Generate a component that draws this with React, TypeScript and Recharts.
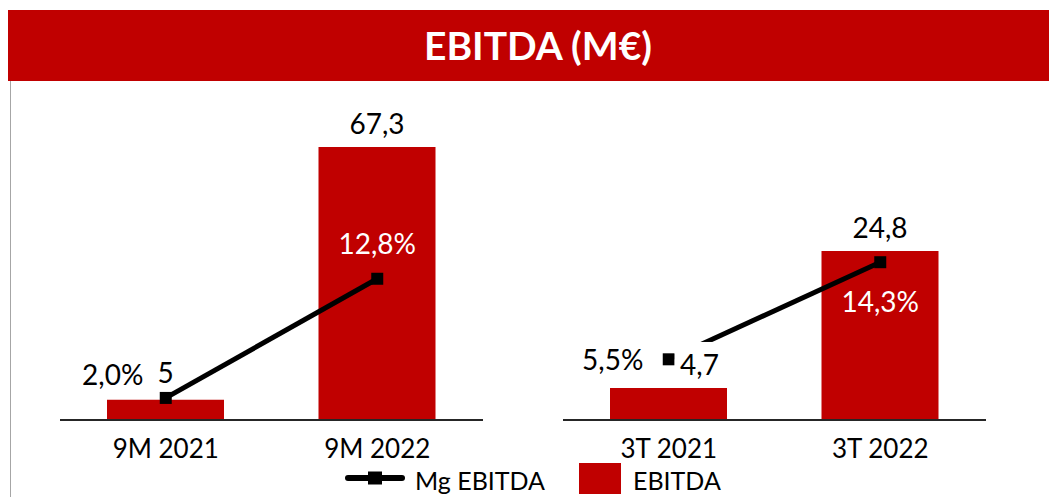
import React from 'react'
import { ComposedChart, Bar, Line, XAxis, YAxis, LabelList } from 'recharts'

// values
const periods9M = ['9M 2021', '9M 2022']
const ebitda9M = [5, 67.3]
const margin9M = [2.0, 12.8]

const periods3T = ['3T 2021', '3T 2022']
const ebitda3T = [4.7, 24.8]
const margin3T = [5.5, 14.3]

const RED = '#C00000'
const FONT = 'Lato, "Noto Sans", sans-serif'

// manual label placement like in the source (dx from centre, dy = baseline offset)
const barLabels9M = [{ dx: 0, dy: -17, mask: false }, { dx: 0, dy: -13, mask: false }]
const barLabels3T = [{ dx: 31, dy: -13, mask: true }, { dx: 0, dy: -13, mask: false }]
const lineLabels9M = [{ dx: -53, dy: -13, color: '#000' }, { dx: 0, dy: -25, color: '#fff' }]
const lineLabels3T = [{ dx: -56, dy: 11, color: '#000' }, { dx: 0, dy: 50, color: '#fff' }]

const fmtVal = (v: number) => String(v).replace('.', ',')
const fmtPct = (v: number) => v.toFixed(1).replace('.', ',') + '%'

const SquareDot = (props: any) => {
  const { cx, cy, index } = props
  if (cx == null || cy == null) return <g key={index} />
  return <rect key={index} x={cx - 6} y={cy - 6} width={12} height={12} fill="#000" />
}

const makeBarLabel = (pos: { dx: number; dy: number; mask: boolean }[]) => (props: any) => {
  const { x, y, width, value, index } = props
  const p = pos[index]
  const cx = Number(x) + Number(width) / 2 + p.dx
  const base = Number(y) + p.dy
  return (
    <g key={index}>
      {p.mask && <rect x={cx - 25} y={base - 33} width={50} height={40} fill="#fff" />}
      <text x={cx} y={base} textAnchor="middle" fontSize={28} fontFamily={FONT} fill="#000">
        {fmtVal(Number(value))}
      </text>
    </g>
  )
}

const makeLineLabel = (pos: { dx: number; dy: number; color: string }[]) => (props: any) => {
  const { x, y, value, index } = props
  const p = pos[index]
  return (
    <text key={index} x={Number(x) + p.dx} y={Number(y) + p.dy} textAnchor="middle" fontSize={28} fontFamily={FONT} fill={p.color}>
      {fmtPct(Number(value))}
    </text>
  )
}

interface PanelProps {
  periods: string[]
  ebitda: number[]
  margin: number[]
  barMax: number
  barLabels: { dx: number; dy: number; mask: boolean }[]
  lineLabels: { dx: number; dy: number; color: string }[]
  left: number
  marginLeft: number
}

const Panel: React.FC<PanelProps> = ({ periods, ebitda, margin, barMax, barLabels, lineLabels, left, marginLeft }) => {
  const data = periods.map((p, i) => ({ period: p, ebitda: ebitda[i], mg: margin[i] }))
  return (
    <div style={{ position: 'absolute', left, top: 80 }}>
      <ComposedChart
        width={500}
        height={400}
        data={data}
        margin={{ top: 12, right: 500 - marginLeft - 423, left: marginLeft, bottom: 28 }}
        style={{ fontFamily: FONT }}
      >
        <XAxis
          dataKey="period"
          height={40}
          tickLine={false}
          tickMargin={14}
          axisLine={{ stroke: '#262626', strokeWidth: 2 }}
          tick={{ fill: '#000', fontSize: 26, fontFamily: FONT }}
        />
        <YAxis yAxisId="val" hide domain={[0, barMax]} />
        <YAxis yAxisId="pct" hide domain={[0, 29]} orientation="right" />
        <Bar yAxisId="val" dataKey="ebitda" fill={RED} barSize={117} isAnimationActive={false}>
          <LabelList dataKey="ebitda" content={makeBarLabel(barLabels)} />
        </Bar>
        <Line
          yAxisId="pct"
          dataKey="mg"
          type="linear"
          stroke="#000"
          strokeWidth={5}
          dot={SquareDot}
          activeDot={false}
          isAnimationActive={false}
        >
          <LabelList dataKey="mg" content={makeLineLabel(lineLabels)} />
        </Line>
      </ComposedChart>
    </div>
  )
}

const App: React.FC = () => {
  return (
    <div style={{ position: 'relative', width: 1049, height: 489, fontFamily: FONT }}>
      <div
        style={{
          position: 'absolute', left: 0, top: 2, width: 1049, height: 71, background: RED,
          color: '#fff', fontWeight: 700, fontSize: 39, lineHeight: '71px', textAlign: 'center',
          paddingLeft: 11, boxSizing: 'border-box',
        }}
      >
        EBITDA (M€)
      </div>
      <div style={{ position: 'absolute', left: 2, top: 73, width: 1, height: 416, background: '#a6a6a6' }} />

      <Panel periods={periods9M} ebitda={ebitda9M} margin={margin9M} barMax={78.9}
        barLabels={barLabels9M} lineLabels={lineLabels9M} left={0} marginLeft={52} />
      <Panel periods={periods3T} ebitda={ebitda3T} margin={margin3T} barMax={46.96}
        barLabels={barLabels3T} lineLabels={lineLabels3T} left={515} marginLeft={40} />

      <svg style={{ position: 'absolute', left: 0, top: 450 }} width={1049} height={39}>
        <line x1={340} y1={20} x2={394} y2={20} stroke="#000" strokeWidth={6} strokeLinecap="round" />
        <rect x={360} y={13.5} width={14} height={13} fill="#000" />
        <text x={407} y={32} fontSize={25} fontFamily={FONT} fill="#000">Mg EBITDA</text>
        <rect x={571} y={5} width={42} height={31} fill={RED} />
        <text x={625} y={32} fontSize={25} fontFamily={FONT} fill="#000">EBITDA</text>
      </svg>
    </div>
  )
}

export default App
